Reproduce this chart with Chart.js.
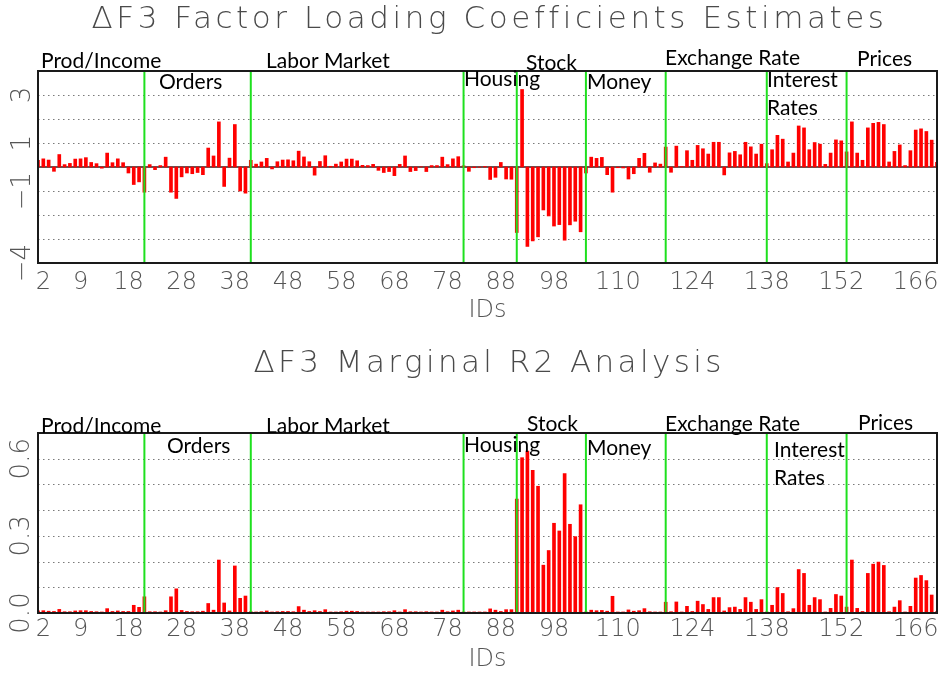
<!DOCTYPE html>
<html>
<head>
<meta charset="utf-8">
<script src="https://cdn.jsdelivr.net/npm/chart.js@4.4.1/dist/chart.umd.min.js"></script>
<style>
html, body { margin: 0; padding: 0; background: #ffffff; }
#wrap { width: 944px; height: 675px; }
canvas { display: block; }
</style>
</head>
<body>
<div id="wrap">
<canvas id="loadChart" width="944" height="337"></canvas>
<canvas id="r2Chart" width="944" height="338"></canvas>
</div>
<script>
// ---------------- data ----------------
const groupNames = ["Prod/Income", "Orders", "Labor Market", "Housing", "Stock", "Money", "Exchange Rate", "Interest Rates", "Prices"];
// IDs where a new group begins (green separators)
const groupBoundaryIds = [21, 41, 81, 91, 104, 119, 138, 153];
const xTickIds = [2, 9, 18, 28, 38, 48, 58, 68, 78, 88, 98, 110, 124, 138, 152, 166];
const loadingTickValues = [3, 1, -1, -4];
const r2TickValues = [0.0, 0.3, 0.6];

const titleLoadings = "\u0394F3 Factor Loading Coefficients Estimates";
const titleR2 = "\u0394F3 Marginal R2 Analysis";
const xAxisTitle = "IDs";

const loadings = [
  0.28, 0.34, 0.29, -0.18, 0.52, 0.10, 0.15, 0.33, 0.34, 0.39,
  0.19, 0.14, -0.05, 0.58, 0.18, 0.34, 0.18, -0.25, -0.73, -0.62,
  -1.05, 0.10, -0.11, 0.06, 0.41, -1.05, -1.31, -0.41, -0.25, -0.28,
  -0.23, -0.32, 0.79, 0.46, 1.88, -0.81, 0.37, 1.77, -1.00, -1.09,
  0.28, 0.12, 0.21, 0.36, -0.08, 0.22, 0.29, 0.30, 0.26, 0.66,
  0.42, 0.22, -0.34, 0.23, 0.47, 0.03, 0.12, 0.21, 0.33, 0.33,
  0.26, 0.07, 0.06, 0.11, -0.14, -0.23, -0.19, -0.36, 0.11, 0.46,
  -0.19, -0.15, 0.01, -0.19, 0.06, 0.06, 0.41, 0.10, 0.34, 0.43,
  0.05, -0.18, -0.03, -0.01, 0.02, -0.52, -0.43, 0.19, -0.50, -0.51,
  -2.73, 3.23, -3.31, -3.08, -2.91, -1.79, -2.04, -2.46, -2.40, -3.05,
  -2.41, -2.26, -2.70, -0.25, 0.41, 0.36, 0.40, -0.32, -1.05, -0.03,
  -0.04, -0.50, -0.28, 0.36, 0.57, -0.22, 0.17, 0.12, 0.83, -0.22,
  0.87, 0.02, 0.68, 0.28, 0.90, 0.76, 0.54, 1.03, 1.03, -0.33,
  0.59, 0.65, 0.51, 1.03, 0.84, 0.54, 0.95, 0.14, 0.72, 1.32,
  1.16, 0.21, 0.58, 1.71, 1.63, 0.72, 1.02, 0.95, 0.11, 0.58,
  1.13, 1.09, 0.63, 1.88, 0.58, 0.28, 1.63, 1.82, 1.86, 1.77,
  0.21, 0.65, 0.92, 0.06, 0.68, 1.54, 1.59, 1.48, 1.12, 0.19
];

const marginalR2 = [
  0.008, 0.009, 0.007, 0.006, 0.014, 0.005, 0.005, 0.008, 0.009, 0.009,
  0.006, 0.005, 0.004, 0.017, 0.006, 0.008, 0.006, 0.006, 0.030, 0.022,
  0.063, 0.005, 0.005, 0.004, 0.009, 0.063, 0.094, 0.010, 0.006, 0.005,
  0.005, 0.007, 0.037, 0.011, 0.206, 0.039, 0.008, 0.183, 0.057, 0.066,
  0.005, 0.004, 0.005, 0.008, 0.004, 0.005, 0.006, 0.006, 0.005, 0.025,
  0.011, 0.006, 0.009, 0.006, 0.013, 0.004, 0.004, 0.005, 0.007, 0.007,
  0.006, 0.004, 0.004, 0.004, 0.004, 0.005, 0.005, 0.009, 0.004, 0.013,
  0.005, 0.005, 0.004, 0.005, 0.004, 0.004, 0.011, 0.005, 0.008, 0.011,
  0.004, 0.004, 0.004, 0.004, 0.004, 0.016, 0.011, 0.006, 0.013, 0.013,
  0.443, 0.604, 0.630, 0.555, 0.493, 0.186, 0.243, 0.349, 0.319, 0.542,
  0.345, 0.297, 0.421, 0.004, 0.011, 0.009, 0.010, 0.007, 0.065, 0.004,
  0.004, 0.012, 0.007, 0.009, 0.017, 0.005, 0.004, 0.004, 0.042, 0.005,
  0.043, 0.004, 0.026, 0.006, 0.046, 0.033, 0.014, 0.060, 0.060, 0.008,
  0.021, 0.023, 0.014, 0.060, 0.042, 0.014, 0.052, 0.004, 0.030, 0.099,
  0.076, 0.005, 0.017, 0.169, 0.154, 0.030, 0.060, 0.052, 0.004, 0.018,
  0.072, 0.066, 0.023, 0.206, 0.018, 0.006, 0.154, 0.190, 0.198, 0.185,
  0.005, 0.023, 0.048, 0.004, 0.026, 0.136, 0.146, 0.126, 0.070, 0.006
];

const ids = Array.from({ length: loadings.length }, (_, i) => i + 1);

// ---------------- layout / style ----------------
const thinFont = '"DejaVu Sans", "Lato", sans-serif';
const labelFont = 'Lato, "Open Sans", sans-serif';

// group-label anchor points (canvas px) per panel, same order as groupNames
const topLabelPos = [[41, 68], [159, 89], [266, 68], [464, 86], [526, 70], [587, 89], [665, 65], [767, 87], [857, 66]];
const botLabelPos = [[41, 96], [167, 116], [266, 96], [464, 115], [527, 94], [587, 118], [665, 94], [774, 120], [858, 93]];

function fmtLoad(v) { return v < 0 ? "\u2212" + Math.abs(v) : String(v); }
function fmtR2(v) { return v.toFixed(1); }

const decor = {
  id: 'decor',
  beforeDatasetsDraw(chart, args, o) {
    const { ctx, chartArea: a, scales: { x, y } } = chart;
    ctx.save();
    ctx.strokeStyle = '#7a7a7a';
    ctx.lineWidth = 1;
    ctx.setLineDash([1.5, 3.5]);
    y.ticks.forEach(t => {
      const v = t.value;
      if (v <= y.min + 1e-9 || v >= y.max - 1e-9) return;
      if (o.zeroLine && Math.abs(v) < 1e-9) return;
      const py = Math.round(y.getPixelForValue(v)) + 0.5;
      ctx.beginPath(); ctx.moveTo(a.left, py); ctx.lineTo(a.right, py); ctx.stroke();
    });
    ctx.setLineDash([]);
    if (o.zeroLine) {
      const py = y.getPixelForValue(0);
      ctx.strokeStyle = '#5a5a5a';
      ctx.lineWidth = 2;
      ctx.beginPath(); ctx.moveTo(a.left, py); ctx.lineTo(a.right, py); ctx.stroke();
    }
    ctx.restore();
  },
  afterDatasetsDraw(chart, args, o) {
    const { ctx, chartArea: a, scales: { x, y } } = chart;
    ctx.save();
    // group separators
    ctx.strokeStyle = '#1ee01e';
    ctx.lineWidth = 2;
    groupBoundaryIds.forEach(id => {
      const px = x.getPixelForValue(id);
      ctx.beginPath(); ctx.moveTo(px, a.top); ctx.lineTo(px, a.bottom); ctx.stroke();
    });
    // plot frame
    ctx.strokeStyle = '#1a1a1a';
    ctx.lineWidth = 2;
    ctx.strokeRect(a.left, a.top, a.right - a.left, a.bottom - a.top);
    // rotated y tick labels
    ctx.fillStyle = '#555555';
    ctx.font = '200 26px ' + thinFont;
    ctx.textAlign = 'center';
    ctx.textBaseline = 'middle';
    o.yLabels.forEach(v => {
      ctx.save();
      ctx.translate(o.yLabelX, y.getPixelForValue(v));
      ctx.rotate(-Math.PI / 2);
      ctx.fillText(o.yFormat(v), 0, 0);
      ctx.restore();
    });
    // title, centred over the plot
    ctx.font = '200 31px ' + thinFont;
    ctx.textAlign = 'left';
    ctx.textBaseline = 'middle';
    ctx.fillStyle = '#4a4a4a';
    let sp = 0;
    if ('letterSpacing' in ctx) {
      ctx.letterSpacing = '0px';
      const w = ctx.measureText(o.title).width;
      sp = (o.titleWidth - w) / (o.title.length - 1);
      ctx.letterSpacing = sp + 'px';
    }
    const cx = (a.left + a.right) / 2;
    ctx.fillText(o.title, cx - o.titleWidth / 2, o.titleY);
    if ('letterSpacing' in ctx) ctx.letterSpacing = '0px';
    // group labels
    ctx.font = '21px ' + labelFont;
    ctx.fillStyle = '#000000';
    ctx.textBaseline = 'alphabetic';
    groupNames.forEach((name, i) => {
      const [lx, ly] = o.labelPos[i];
      const lines = name === 'Interest Rates' ? ['Interest', 'Rates'] : [name];
      lines.forEach((ln, k) => ctx.fillText(ln, lx, ly + k * 28));
    });
    ctx.restore();
  }
};

function makeChart(canvasId, values, cfg) {
  return new Chart(document.getElementById(canvasId), {
    type: 'bar',
    data: {
      datasets: [{
        data: ids.map((id, i) => ({ x: id, y: values[i] })),
        backgroundColor: '#ff0000',
        borderWidth: 0,
        barThickness: 3
      }]
    },
    options: {
      responsive: false,
      animation: false,
      devicePixelRatio: 1,
      layout: { padding: { top: cfg.padTop, right: 7, left: 0, bottom: 0 } },
      plugins: {
        legend: { display: false },
        tooltip: { enabled: false },
        decor: {
          zeroLine: cfg.zeroLine,
          yLabels: cfg.yLabels,
          yFormat: cfg.yFormat,
          yLabelX: cfg.yLabelX,
          title: cfg.title,
          titleY: cfg.titleY,
          titleWidth: cfg.titleWidth,
          labelPos: cfg.labelPos
        }
      },
      scales: {
        x: {
          type: 'linear',
          min: 1,
          max: 170,
          offset: false,
          grid: { display: false, drawTicks: false },
          border: { display: false },
          afterBuildTicks: s => { s.ticks = xTickIds.map(v => ({ value: v })); },
          afterFit: s => { s.height = cfg.xHeight; },
          ticks: {
            autoSkip: false, maxRotation: 0, minRotation: 0,
            padding: cfg.tickPad,
            color: '#555555',
            font: { family: thinFont, size: 24, weight: 200 },
            callback: v => String(v)
          },
          title: {
            display: true, text: xAxisTitle, color: '#555555',
            font: { family: thinFont, size: 24, weight: 200 },
            padding: { top: 0, bottom: cfg.idsPad }
          }
        },
        y: {
          min: cfg.ymin, max: cfg.ymax,
          ticks: { display: false, stepSize: cfg.step },
          grid: { display: false },
          border: { display: false },
          afterFit: s => { s.width = 38; }
        }
      }
    },
    plugins: [decor]
  });
}

makeChart('loadChart', loadings, {
  padTop: 71, xHeight: 74, tickPad: 5, idsPad: 12,
  ymin: -4, ymax: 4, step: 1, zeroLine: true,
  yLabels: loadingTickValues, yFormat: fmtLoad, yLabelX: 23,
  title: titleLoadings, titleY: 20, titleWidth: 792,
  labelPos: topLabelPos
});

makeChart('r2Chart', marginalR2, {
  padTop: 96, xHeight: 62, tickPad: 2, idsPad: 1,
  ymin: 0, ymax: 0.7, step: 0.1, zeroLine: false,
  yLabels: r2TickValues, yFormat: fmtR2, yLabelX: 22,
  title: titleR2, titleY: 27, titleWidth: 468,
  labelPos: botLabelPos
});
</script>
</body>
</html>
